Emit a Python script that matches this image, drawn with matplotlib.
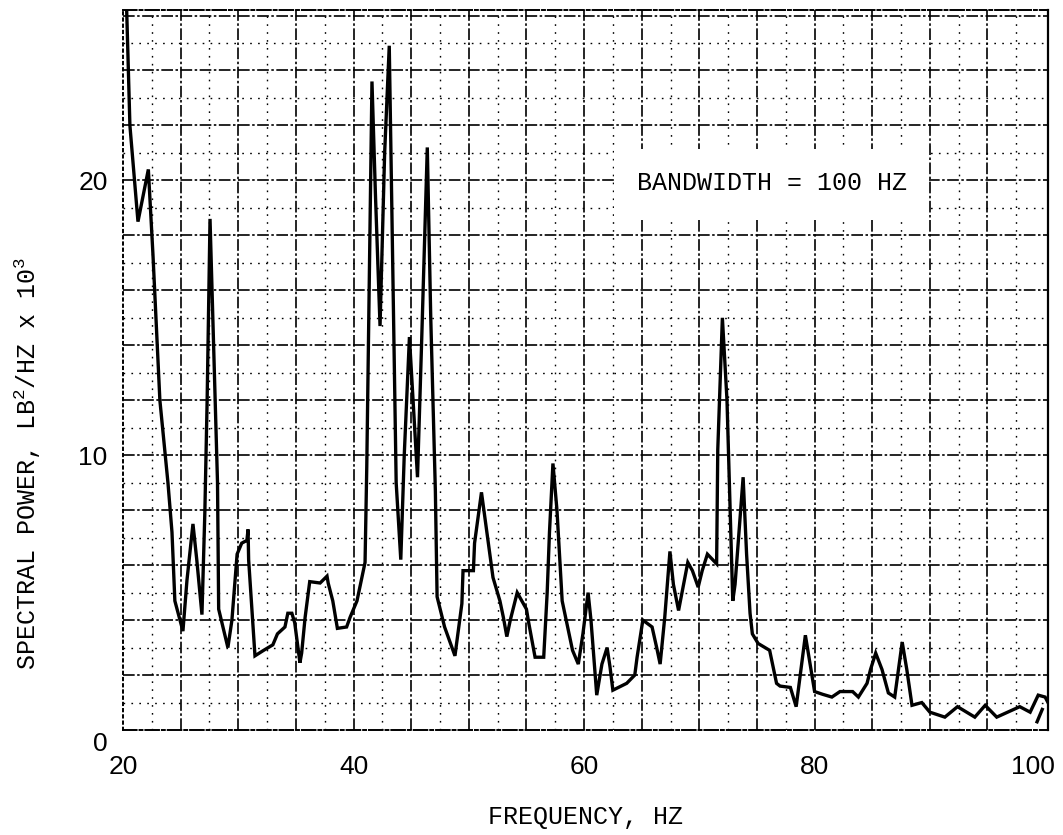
import matplotlib
matplotlib.use("Agg")
import matplotlib.pyplot as plt
import matplotlib.transforms as mtransforms
import numpy as np

# Spectral power trace
freq_hz = [
    20.3, 20.6, 21.3, 22.2, 22.6, 23.2, 23.9, 24.25, 24.5, 25.2, 25.55, 26.07,
    26.4, 26.85, 27.1, 27.3, 27.55, 28.0, 28.2, 28.3, 29.1, 29.45, 29.9, 30.3,
    30.75, 30.85, 30.9, 31.45, 32.2, 33.0, 33.4, 34.05, 34.3, 34.65, 34.9, 35.35,
    35.5, 35.8, 36.2, 37.1, 37.7, 37.8, 38.2, 38.6, 39.4, 39.7, 40.3, 40.55,
    41.0, 41.15, 41.6, 41.9, 42.3, 42.7, 43.1, 43.4, 43.7, 44.1, 44.4, 44.85,
    45.1, 45.55, 45.9, 46.4, 46.7, 47.1, 47.25, 47.9, 48.8, 49.4, 49.5, 50.4,
    50.5, 51.1, 51.7, 52.1, 52.7, 53.0, 53.3, 53.6, 54.2, 55.0, 55.2, 55.75,
    56.5, 56.8, 57.0, 57.3, 57.65, 58.1, 58.5, 59.0, 59.5, 59.9, 60.35, 60.6,
    61.1, 61.55, 62.0, 62.25, 62.5, 63.7, 64.4, 64.6, 65.1, 65.9, 66.3, 66.6,
    67.0, 67.45, 67.75, 68.2, 69.0, 69.4, 69.9, 70.25, 70.7, 71.5, 71.6, 72.0,
    72.4, 72.9, 73.1, 73.8, 74.1, 74.4, 74.6, 75.1, 76.1, 76.7, 77.0, 77.9,
    78.4, 78.75, 79.2, 80.0, 80.7, 81.5, 82.2, 83.3, 83.8, 84.55, 84.85, 85.3,
    85.85, 86.4, 86.95, 87.6, 88.0, 88.45, 89.3, 90.0, 91.3, 92.4, 93.9, 94.8,
    95.8, 97.8, 98.7, 99.4, 100.0, 100.25,
]
power = [
    26.5, 22.0, 18.5, 20.4, 17.3, 12.0, 9.0, 7.2, 4.7, 3.6, 5.45, 7.5,
    6.2, 4.2, 7.9, 12.0, 18.6, 12.0, 9.0, 4.4, 3.0, 4.0, 6.4, 6.8,
    6.9, 7.3, 6.2, 2.7, 2.9, 3.1, 3.5, 3.75, 4.25, 4.25, 3.9, 2.45,
    2.8, 4.1, 5.4, 5.35, 5.6, 5.35, 4.7, 3.7, 3.75, 4.1, 4.7, 5.2,
    6.1, 9.6, 23.6, 19.5, 14.7, 21.0, 24.9, 17.0, 9.0, 6.2, 10.0, 14.3,
    12.5, 9.2, 14.0, 21.2, 15.0, 8.7, 4.85, 3.75, 2.7, 4.6, 5.8, 5.8,
    6.8, 8.65, 6.8, 5.55, 4.7, 4.1, 3.4, 4.0, 5.0, 4.4, 3.9, 2.65,
    2.65, 5.0, 7.2, 9.7, 8.0, 4.7, 3.9, 2.9, 2.4, 3.5, 5.0, 4.0,
    1.27, 2.4, 3.0, 2.3, 1.45, 1.7, 2.0, 2.65, 4.0, 3.75, 3.0, 2.4,
    4.1, 6.5, 5.3, 4.35, 6.1, 5.8, 5.2, 5.8, 6.4, 6.05, 10.2, 15.0,
    12.0, 4.7, 5.3, 9.2, 6.4, 4.25, 3.5, 3.15, 2.9, 1.7, 1.6, 1.55,
    0.85, 2.0, 3.45, 1.4, 1.3, 1.2, 1.4, 1.4, 1.2, 1.7, 2.2, 2.8,
    2.2, 1.35, 1.2, 3.2, 2.2, 0.9, 1.0, 0.65, 0.47, 0.85, 0.47, 0.9,
    0.47, 0.85, 0.65, 1.27, 1.2, 1.0,
]
# short retrace stroke at the very end of the trace
tail_hz = [99.3, 99.75]
tail_power = [0.3, 0.75]

x_ticks = [20, 40, 60, 80, 100]
y_ticks = [0, 10, 20]

MONO = "Liberation Mono"
SANS = "Liberation Sans"

plt.rcParams["mathtext.fontset"] = "custom"
plt.rcParams["mathtext.rm"] = MONO
plt.rcParams["mathtext.it"] = MONO
plt.rcParams["mathtext.default"] = "rm"

fig = plt.figure(figsize=(10.63, 8.35), dpi=100)
ax = fig.add_axes([0.1157, 0.1257, 0.8702, 0.8623])
ax.set_xlim(20, 100.25)
ax.set_ylim(0, 26.2)

# graph-paper grid
grid_major = dict(color="black", linewidth=1.2, dashes=(7, 1.5, 1.5, 1.5), zorder=1)
grid_minor = dict(color="black", linewidth=1.0, dashes=(1.2, 4.5), zorder=1)
for xv in np.arange(25, 100, 5):
    ax.axvline(xv, **grid_major)
for xv in np.arange(22.5, 100, 5):
    ax.axvline(xv, **grid_minor)
for yv in np.arange(2, 27, 2):
    ax.axhline(yv, **grid_major)
for yv in np.arange(1, 27, 2):
    ax.axhline(yv, **grid_minor)

ax.plot(freq_hz, power, color="black", linewidth=2.4, zorder=3,
        solid_joinstyle="miter")
ax.plot(tail_hz, tail_power, color="black", linewidth=2.4, zorder=3)

ax.text(76.3, 19.9, "BANDWIDTH = 100 HZ", family=MONO, fontsize=18,
        ha="center", va="center", zorder=5,
        bbox={"boxstyle": "square,pad=0.9", "facecolor": "white",
              "edgecolor": "none"})

for side in ("top", "bottom"):
    ax.spines[side].set_linestyle((0, (7, 1.5, 1.5, 1.5)))
    ax.spines[side].set_linewidth(1.4)
ax.spines["left"].set_linestyle((0, (1.2, 2.0)))
ax.spines["left"].set_linewidth(1.4)
ax.spines["right"].set_linewidth(1.6)

ax.set_xticks(x_ticks)
ax.set_yticks(y_ticks)
ax.tick_params(axis="both", length=0)
ax.tick_params(axis="x", pad=18)
ax.tick_params(axis="y", pad=11)
for lab in ax.get_xticklabels() + ax.get_yticklabels():
    lab.set_family(SANS)
    lab.set_fontsize(19)
# the typed "0" sits a bit below the baseline in the original
zero_label = ax.get_yticklabels()[0]
zero_label.set_transform(zero_label.get_transform()
                         + mtransforms.ScaledTranslation(0, -0.11, fig.dpi_scale_trans))
# "100" is typed slightly left of its grid line
last_label = ax.get_xticklabels()[-1]
last_label.set_transform(last_label.get_transform()
                         + mtransforms.ScaledTranslation(-0.12, 0, fig.dpi_scale_trans))

ax.set_xlabel("FREQUENCY, HZ", family=MONO, fontsize=18)
ax.xaxis.set_label_coords(0.5, -0.104)
ax.set_ylabel(r"SPECTRAL POWER, LB$^{2}$/HZ x 10$^{3}$", family=MONO, fontsize=18)
ax.yaxis.set_label_coords(-0.087, 0.37)

fig.savefig("out.png", dpi=100)
plt.close(fig)
